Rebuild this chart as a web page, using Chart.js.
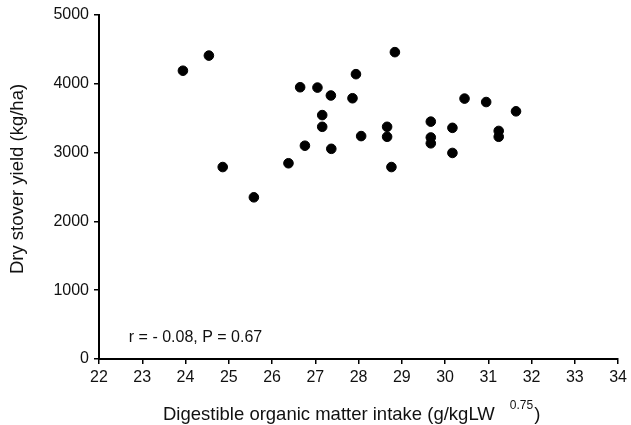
<!DOCTYPE html>
<html>
<head>
<meta charset="utf-8">
<script src="https://cdn.jsdelivr.net/npm/chart.js@4"></script>
<style>
  html, body { margin: 0; padding: 0; background: #fff; }
  #wrap { width: 631px; height: 425px; position: relative; }
</style>
</head>
<body>
<div id="wrap"><canvas id="chart"></canvas></div>
<script>
// digestible organic matter intake (g/kgLW^0.75)
const intake = [23.94, 24.54, 24.86, 25.58, 26.38, 26.76, 26.65, 27.05, 27.36, 27.86,
                27.94, 28.84, 27.16, 27.16, 27.37, 28.06, 28.66, 28.66, 28.76, 29.67,
                29.67, 29.67, 30.17, 30.17, 30.45, 30.95, 31.24, 31.24, 31.64];
// dry stover yield (kg/ha)
const stoverYield = [4190, 4410, 2790, 2350, 2845, 3100, 3950, 3945, 3830, 3790,
                     4140, 4460, 3545, 3375, 3055, 3240, 3375, 3230, 2790, 3450,
                     3220, 3135, 3360, 2995, 3785, 3735, 3315, 3230, 3600];

const xTicks = [22, 23, 24, 25, 26, 27, 28, 29, 30, 31, 32, 33, 34];
const yTicks = [0, 1000, 2000, 3000, 4000, 5000];

const yTitle = 'Dry stover yield (kg/ha)';
const xTitle = 'Digestible organic matter intake (g/kgLW';
const xTitleSup = '0.75';
const statsNote = 'r = - 0.08, P = 0.67';

const points = intake.map((x, i) => ({ x: x, y: stoverYield[i] }));

const textFont = '"Liberation Sans", Arial, sans-serif';

const extraText = {
  id: 'extraText',
  afterDraw(chart) {
    const ctx = chart.ctx;
    const xs = chart.scales.x, ys = chart.scales.y;
    ctx.save();
    ctx.fillStyle = '#111';
    ctx.textBaseline = 'middle';
    // stats note inside the plot
    ctx.font = '16px ' + textFont;
    ctx.textAlign = 'left';
    ctx.fillText(statsNote, xs.getPixelForValue(22.69), ys.getPixelForValue(305));
    // y axis title
    ctx.save();
    ctx.translate(18, 179);
    ctx.rotate(-Math.PI / 2);
    ctx.font = '18.5px ' + textFont;
    ctx.textAlign = 'center';
    ctx.fillText(yTitle, 0, 0);
    ctx.restore();
    // x axis title with superscript
    const x0 = 163;
    const yBase = 415;
    ctx.font = '18.5px ' + textFont;
    const mainW = ctx.measureText(xTitle).width;
    ctx.fillText(xTitle, x0, yBase);
    ctx.font = '12px ' + textFont;
    const supX = x0 + mainW + 15;
    const supW = ctx.measureText(xTitleSup).width;
    ctx.fillText(xTitleSup, supX, yBase - 9);
    ctx.font = '18.5px ' + textFont;
    ctx.fillText(')', supX + supW + 1, yBase);
    ctx.restore();
  }
};

new Chart(document.getElementById('chart'), {
  type: 'scatter',
  data: {
    datasets: [{
      label: 'Dry stover yield',
      data: points,
      backgroundColor: '#000',
      borderColor: '#000',
      pointRadius: 4.8,
      pointHoverRadius: 4.8
    }]
  },
  options: {
    responsive: true,
    maintainAspectRatio: false,
    animation: false,
    layout: { padding: { top: 15, right: 11, left: 0, bottom: 0 } },
    plugins: {
      legend: { display: false },
      tooltip: { enabled: false }
    },
    scales: {
      x: {
        type: 'linear',
        min: 22,
        max: 34,
        afterBuildTicks(scale) { scale.ticks = xTicks.map(v => ({ value: v })); },
        afterFit(scale) { scale.height = 66; },
        ticks: {
          color: '#111',
          font: { family: textFont, size: 16 },
          padding: 4,
          callback: v => String(v)
        },
        grid: { display: true, drawOnChartArea: false, drawTicks: true, tickLength: 5, color: '#000', lineWidth: 1.5 },
        border: { display: true, color: '#000', width: 2 }
      },
      y: {
        type: 'linear',
        min: 0,
        max: 5000,
        afterBuildTicks(scale) { scale.ticks = yTicks.map(v => ({ value: v })); },
        afterFit(scale) { scale.width = 99; },
        ticks: {
          color: '#111',
          font: { family: textFont, size: 16 },
          padding: 5,
          callback: v => String(v)
        },
        grid: { display: true, drawOnChartArea: false, drawTicks: true, tickLength: 5, color: '#000', lineWidth: 1.5 },
        border: { display: true, color: '#000', width: 2 }
      }
    }
  },
  plugins: [extraText]
});
</script>
</body>
</html>
